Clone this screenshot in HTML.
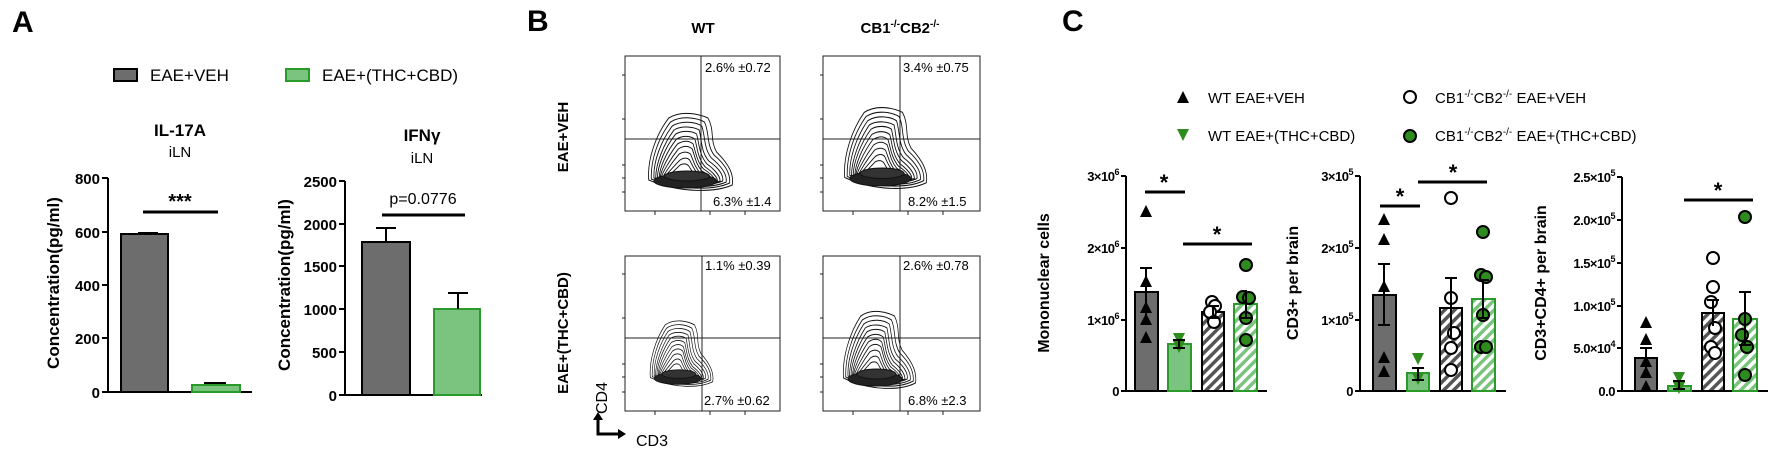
<!DOCTYPE html>
<html><head><meta charset="utf-8"><style>
html,body{margin:0;padding:0;background:#fff;}
svg{display:block;font-family:"Liberation Sans",sans-serif;}
.b{font-weight:bold}
</style></head><body>
<svg width="1772" height="453" viewBox="0 0 1772 453" xmlns="http://www.w3.org/2000/svg">
<defs>
<pattern id="hg" patternUnits="userSpaceOnUse" width="7" height="7" patternTransform="rotate(45)">
<rect width="7" height="7" fill="#fff"/><rect width="3.5" height="7" fill="#555"/></pattern>
<pattern id="hgr" patternUnits="userSpaceOnUse" width="7" height="7" patternTransform="rotate(45)">
<rect width="7" height="7" fill="#fff"/><rect width="3.5" height="7" fill="#7bc47f"/></pattern>
<g id="tu"><path d="M0,-7 L6,5 L-6,5Z" fill="#000"/></g>
<g id="td"><path d="M0,7 L6,-5 L-6,-5Z" fill="#2e8b1e"/></g>
<g id="co"><circle r="6" fill="#fff" stroke="#000" stroke-width="2"/></g>
<g id="cg"><circle r="6" fill="#2e8b1e" stroke="#000" stroke-width="2"/></g>
<g id="blob" fill="none" stroke="#111" stroke-width="1">
<path d="M2,70 C0,50 10,25 25,8 C40,0 60,4 70,8 C78,20 72,30 80,42 C95,55 100,65 98,75 C80,82 40,84 2,70Z"/>
<path d="M5,69 C4,50 13,28 27,12 C40,5 58,8 66,12 C72,22 68,34 77,45 C92,56 96,65 95,73 C78,80 40,81 5,69Z"/>
<path d="M8,68 C7,52 16,31 29,16 C40,10 56,12 63,16 C67,26 65,38 74,48 C88,58 92,66 91,72 C76,78 40,79 8,68Z"/>
<path d="M10,68 C10,54 19,34 31,20 C40,15 54,17 60,20 C63,30 62,42 71,51 C84,59 88,66 87,71 C74,76 40,77 10,68Z"/>
<path d="M12,68 C12,56 21,37 33,24 C41,20 52,21 57,24 C60,34 60,45 69,54 C80,61 84,67 84,71 C72,75 40,76 12,68Z"/>
<path d="M14,68 C14,58 23,41 34,29 C42,25 50,26 55,29 C58,38 58,48 67,57 C77,63 81,68 81,71 C70,74 40,75 14,68Z"/>
<path d="M15,68 C16,60 25,45 35,34 C43,30 49,31 53,34 C56,42 57,51 65,59 C74,64 78,68 78,71 C68,73 40,74 15,68Z"/>
<path d="M16,68 C18,62 27,49 36,39 C43,35 48,36 52,39 C55,46 56,54 63,61 C71,65 75,68 75,70 C66,72 40,73 16,68Z"/>
<path d="M17,69 C20,64 28,53 37,44 C43,41 47,42 50,44 C53,50 55,57 61,63 C68,66 72,69 72,70 C64,72 40,73 17,69Z"/>
<path d="M18,69 C22,65 30,57 38,50 C43,47 47,48 49,50 C52,55 54,60 59,64 C65,67 69,69 69,70 C62,72 40,72 18,69Z"/>
<path d="M19,70 C24,67 31,61 38,55 C43,53 46,54 48,56 C51,60 53,64 57,66 C62,68 66,69 66,70 C60,71 40,72 19,70Z"/>
<ellipse cx="44" cy="71" rx="36" ry="7" fill="#222"/>
<ellipse cx="46" cy="66" rx="26" ry="5" fill="#333"/>
</g>
</defs>

<!-- Panel A -->
<text x="12" y="32" font-size="30" class="b">A</text>
<rect x="114" y="69" width="23" height="12" fill="#6d6d6d" stroke="#000" stroke-width="2"/>
<text x="150" y="81" font-size="17">EAE+VEH</text>
<rect x="286" y="69" width="23" height="12" fill="#7bc47f" stroke="#2a9a2a" stroke-width="2"/>
<text x="322" y="81" font-size="17">EAE+(THC+CBD)</text>

<text x="180" y="136" font-size="17" class="b" text-anchor="middle">IL-17A</text>
<text x="180" y="157" font-size="15" text-anchor="middle">iLN</text>
<text transform="translate(59,283) rotate(-90)" font-size="17" class="b" text-anchor="middle">Concentration(pg/ml)</text>
<g stroke="#000" stroke-width="2" fill="none">
<path d="M108,178 V392 H252"/>
<path d="M102,178 H108 M102,232 H108 M102,285 H108 M102,338 H108 M102,392 H108"/>
</g>
<g font-size="15" class="b" text-anchor="end">
<text x="100" y="184">800</text><text x="100" y="238">600</text><text x="100" y="291">400</text><text x="100" y="344">200</text><text x="100" y="398">0</text>
</g>
<rect x="121" y="234" width="47" height="158" fill="#6d6d6d" stroke="#000" stroke-width="2"/>
<path d="M138,233 H158" stroke="#000" stroke-width="2"/>
<rect x="192" y="385" width="48" height="7" fill="#7bc47f" stroke="#2a9a2a" stroke-width="2"/>
<path d="M204,383 H226" stroke="#000" stroke-width="2"/>
<path d="M143,212 H218" stroke="#000" stroke-width="3"/>
<text x="180" y="208" font-size="20" class="b" text-anchor="middle">***</text>

<text x="422" y="141" font-size="17" class="b" text-anchor="middle">IFNγ</text>
<text x="422" y="163" font-size="15" text-anchor="middle">iLN</text>
<text transform="translate(290,285) rotate(-90)" font-size="17" class="b" text-anchor="middle">Concentration(pg/ml)</text>
<g stroke="#000" stroke-width="2" fill="none">
<path d="M345,181 V395 H482"/>
<path d="M339,181 H345 M339,224 H345 M339,266 H345 M339,309 H345 M339,352 H345 M339,395 H345"/>
</g>
<g font-size="15" class="b" text-anchor="end">
<text x="337" y="187">2500</text><text x="337" y="230">2000</text><text x="337" y="272">1500</text><text x="337" y="315">1000</text><text x="337" y="358">500</text><text x="337" y="401">0</text>
</g>
<rect x="362" y="242" width="48" height="153" fill="#6d6d6d" stroke="#000" stroke-width="2"/>
<path d="M386,242 V228 M376,228 H396" stroke="#000" stroke-width="2"/>
<rect x="434" y="309" width="46" height="86" fill="#7bc47f" stroke="#2a9a2a" stroke-width="2"/>
<path d="M458,309 V293 M448,293 H468" stroke="#000" stroke-width="2"/>
<path d="M382,215 H465" stroke="#000" stroke-width="3"/>
<text x="423" y="204" font-size="16" text-anchor="middle">p=0.0776</text>

<!-- Panel B -->
<text x="527" y="31" font-size="30" class="b">B</text>
<text x="703" y="33" font-size="15" class="b" text-anchor="middle">WT</text>
<text x="900" y="33" font-size="15" class="b" text-anchor="middle">CB1<tspan font-size="10" dy="-6">-/-</tspan><tspan dy="6">CB2</tspan><tspan font-size="10" dy="-6">-/-</tspan></text>
<text transform="translate(568,137) rotate(-90)" font-size="15" class="b" text-anchor="middle">EAE+VEH</text>
<text transform="translate(568,333) rotate(-90)" font-size="15" class="b" text-anchor="middle">EAE+(THC+CBD)</text>

<g fill="none" stroke="#222" stroke-width="1">
<rect x="625" y="56" width="155" height="155"/>
<path d="M701,56 V211 M625,139 H780"/>
<rect x="625" y="256" width="155" height="155"/>
<path d="M702,256 V411 M625,338 H780"/>
<rect x="823" y="56" width="157" height="155"/>
<path d="M900,56 V211 M823,139 H980"/>
<rect x="823" y="256" width="157" height="155"/>
<path d="M900,256 V411 M823,338 H980"/>
<path d="M622,75 H625 M622,119 H625 M622,165 H625 M622,178 H625 M622,192 H625 M820,75 H823 M820,119 H823 M820,165 H823 M820,178 H823 M820,192 H823 M622,274 H625 M622,318 H625 M622,364 H625 M622,377 H625 M622,392 H625 M820,274 H823 M820,318 H823 M820,364 H823 M820,377 H823 M820,392 H823"/>
<path d="M655,211 V215 M710,211 V215 M745,211 V215 M853,211 V215 M908,211 V215 M943,211 V215 M655,411 V415 M710,411 V415 M745,411 V415 M853,411 V415 M908,411 V415 M943,411 V415"/>
</g>
<use href="#blob" transform="translate(647,110) scale(0.87,1)"/>
<use href="#blob" transform="translate(843,104) scale(0.85,1.05)"/>
<use href="#blob" transform="translate(649,318) scale(0.65,0.85)"/>
<use href="#blob" transform="translate(842,308) scale(0.75,1)"/>
<g font-size="13">
<text x="705" y="72">2.6% ±0.72</text><text x="713" y="206">6.3% ±1.4</text>
<text x="705" y="270">1.1% ±0.39</text><text x="704" y="405">2.7% ±0.62</text>
<text x="903" y="72">3.4% ±0.75</text><text x="908" y="206">8.2% ±1.5</text>
<text x="903" y="270">2.6% ±0.78</text><text x="908" y="405">6.8% ±2.3</text>
</g>
<text transform="translate(607,398) rotate(-90)" font-size="16" text-anchor="middle">CD4</text>
<path d="M598,418 V434 H620" fill="none" stroke="#000" stroke-width="3"/>
<path d="M593,420 L598,412 L603,420Z M618,429 L626,434 L618,439Z" fill="#000"/>
<text x="636" y="446" font-size="16">CD3</text>

<!-- Panel C -->
<text x="1062" y="31" font-size="30" class="b">C</text>
<use href="#tu" x="1183" y="98"/>
<text x="1208" y="103" font-size="15">WT EAE+VEH</text>
<use href="#td" x="1183" y="134"/>
<text x="1208" y="141" font-size="15">WT EAE+(THC+CBD)</text>
<use href="#co" x="1410" y="97"/>
<text x="1435" y="103" font-size="15">CB1<tspan font-size="10" dy="-6">-/-</tspan><tspan dy="6">CB2</tspan><tspan font-size="10" dy="-6">-/-</tspan><tspan dy="6"> EAE+VEH</tspan></text>
<use href="#cg" x="1410" y="136"/>
<text x="1435" y="141" font-size="15">CB1<tspan font-size="10" dy="-6">-/-</tspan><tspan dy="6">CB2</tspan><tspan font-size="10" dy="-6">-/-</tspan><tspan dy="6"> EAE+(THC+CBD)</tspan></text>

<!-- C1 -->
<text transform="translate(1049,283) rotate(-90)" font-size="16" class="b" text-anchor="middle">Mononuclear cells</text>
<g stroke="#000" stroke-width="2" fill="none">
<path d="M1126,176 V391 H1267"/>
<path d="M1121,176 H1126 M1121,248 H1126 M1121,320 H1126 M1121,391 H1126"/>
</g>
<g font-size="13" class="b" text-anchor="end" letter-spacing="-0.5">
<text x="1119" y="181">3×10<tspan font-size="9" dy="-6">6</tspan></text>
<text x="1119" y="253">2×10<tspan font-size="9" dy="-6">6</tspan></text>
<text x="1119" y="325">1×10<tspan font-size="9" dy="-6">6</tspan></text>
<text x="1119" y="396">0</text>
</g>
<rect x="1135" y="292" width="23" height="99" fill="#6d6d6d" stroke="#000" stroke-width="2"/>
<rect x="1168" y="344" width="23" height="47" fill="#7bc47f" stroke="#2a9a2a" stroke-width="2"/>
<rect x="1202" y="312" width="22" height="79" fill="url(#hg)" stroke="#000" stroke-width="2"/>
<rect x="1234" y="304" width="23" height="87" fill="url(#hgr)" stroke="#2a9a2a" stroke-width="2"/>
<use href="#tu" x="1146" y="212"/><use href="#tu" x="1146" y="282"/><use href="#tu" x="1146" y="308"/><use href="#tu" x="1146" y="320"/><use href="#tu" x="1146" y="338"/>
<use href="#td" x="1179" y="338"/><use href="#td" x="1179" y="346"/>
<use href="#co" x="1212" y="302"/><use href="#co" x="1215" y="306"/><use href="#co" x="1210" y="312"/><use href="#co" x="1214" y="322"/>
<use href="#cg" x="1246" y="265"/><use href="#cg" x="1243" y="297"/><use href="#cg" x="1249" y="298"/><use href="#cg" x="1246" y="318"/><use href="#cg" x="1246" y="340"/>
<g stroke="#000" stroke-width="2">
<path d="M1146,268 V316 M1140,268 H1152"/>
<path d="M1179,340 V348 M1173,340 H1185 M1173,348 H1185"/>
<path d="M1213,306 V318 M1207,306 H1219 M1207,318 H1219"/>
<path d="M1246,290 V318 M1240,318 H1252"/>
</g>
<path d="M1145,192 H1185 M1183,244 H1252" stroke="#000" stroke-width="3"/>
<text x="1164" y="190" font-size="22" class="b" text-anchor="middle">*</text>
<text x="1217" y="242" font-size="22" class="b" text-anchor="middle">*</text>

<!-- C2 -->
<text transform="translate(1298,283) rotate(-90)" font-size="16" class="b" text-anchor="middle">CD3+ per brain</text>
<g stroke="#000" stroke-width="2" fill="none">
<path d="M1360,176 V391 H1506"/>
<path d="M1355,176 H1360 M1355,248 H1360 M1355,320 H1360 M1355,391 H1360"/>
</g>
<g font-size="13" class="b" text-anchor="end" letter-spacing="-0.5">
<text x="1353" y="181">3×10<tspan font-size="9" dy="-6">5</tspan></text>
<text x="1353" y="253">2×10<tspan font-size="9" dy="-6">5</tspan></text>
<text x="1353" y="325">1×10<tspan font-size="9" dy="-6">5</tspan></text>
<text x="1353" y="396">0</text>
</g>
<rect x="1373" y="295" width="23" height="96" fill="#6d6d6d" stroke="#000" stroke-width="2"/>
<rect x="1407" y="373" width="22" height="18" fill="#7bc47f" stroke="#2a9a2a" stroke-width="2"/>
<rect x="1440" y="308" width="22" height="83" fill="url(#hg)" stroke="#000" stroke-width="2"/>
<rect x="1472" y="299" width="23" height="92" fill="url(#hgr)" stroke="#2a9a2a" stroke-width="2"/>
<use href="#tu" x="1384" y="220"/><use href="#tu" x="1384" y="240"/><use href="#tu" x="1384" y="287"/><use href="#tu" x="1384" y="358"/><use href="#tu" x="1384" y="372"/>
<use href="#td" x="1418" y="358"/><use href="#td" x="1418" y="378"/>
<use href="#co" x="1451" y="198"/><use href="#co" x="1451" y="298"/><use href="#co" x="1454" y="333"/><use href="#co" x="1451" y="348"/><use href="#co" x="1451" y="370"/>
<use href="#cg" x="1483" y="232"/><use href="#cg" x="1481" y="275"/><use href="#cg" x="1486" y="277"/><use href="#cg" x="1483" y="315"/><use href="#cg" x="1481" y="347"/><use href="#cg" x="1486" y="347"/>
<g stroke="#000" stroke-width="2">
<path d="M1384,264 V325 M1378,264 H1390 M1378,325 H1390"/>
<path d="M1418,368 V380 M1412,368 H1424 M1412,380 H1424"/>
<path d="M1451,278 V338 M1445,278 H1457"/>
<path d="M1483,280 V318 M1477,280 H1489 M1477,318 H1489"/>
</g>
<path d="M1380,206 H1420 M1418,182 H1487" stroke="#000" stroke-width="3"/>
<text x="1400" y="204" font-size="22" class="b" text-anchor="middle">*</text>
<text x="1453" y="180" font-size="22" class="b" text-anchor="middle">*</text>

<!-- C3 -->
<text transform="translate(1546,283) rotate(-90)" font-size="16" class="b" text-anchor="middle">CD3+CD4+ per brain</text>
<g stroke="#000" stroke-width="2" fill="none">
<path d="M1622,177 V391 H1768"/>
<path d="M1617,177 H1622 M1617,220 H1622 M1617,263 H1622 M1617,306 H1622 M1617,348 H1622 M1617,391 H1622"/>
</g>
<g font-size="13" class="b" text-anchor="end" letter-spacing="-0.5">
<text x="1615" y="182">2.5×10<tspan font-size="9" dy="-6">5</tspan></text>
<text x="1615" y="225">2.0×10<tspan font-size="9" dy="-6">5</tspan></text>
<text x="1615" y="268">1.5×10<tspan font-size="9" dy="-6">5</tspan></text>
<text x="1615" y="311">1.0×10<tspan font-size="9" dy="-6">5</tspan></text>
<text x="1615" y="353">5.0×10<tspan font-size="9" dy="-6">4</tspan></text>
<text x="1615" y="396">0.0</text>
</g>
<rect x="1635" y="358" width="22" height="33" fill="#6d6d6d" stroke="#000" stroke-width="2"/>
<rect x="1668" y="386" width="23" height="5" fill="#7bc47f" stroke="#2a9a2a" stroke-width="2"/>
<rect x="1702" y="313" width="22" height="78" fill="url(#hg)" stroke="#000" stroke-width="2"/>
<rect x="1733" y="319" width="24" height="72" fill="url(#hgr)" stroke="#2a9a2a" stroke-width="2"/>
<use href="#tu" x="1646" y="323"/><use href="#tu" x="1646" y="340"/><use href="#tu" x="1646" y="362"/><use href="#tu" x="1646" y="373"/><use href="#tu" x="1646" y="387"/>
<use href="#td" x="1679" y="377"/><use href="#td" x="1679" y="387"/>
<use href="#co" x="1713" y="258"/><use href="#co" x="1713" y="287"/><use href="#co" x="1711" y="302"/><use href="#co" x="1715" y="328"/><use href="#co" x="1711" y="347"/><use href="#co" x="1715" y="353"/>
<use href="#cg" x="1745" y="217"/><use href="#cg" x="1745" y="319"/><use href="#cg" x="1742" y="335"/><use href="#cg" x="1747" y="347"/><use href="#cg" x="1745" y="375"/>
<g stroke="#000" stroke-width="2">
<path d="M1646,348 V368 M1640,348 H1652"/>
<path d="M1679,381 V389 M1673,381 H1685 M1673,389 H1685"/>
<path d="M1713,300 V326 M1707,300 H1719"/>
<path d="M1745,292 V345 M1739,292 H1751 M1739,345 H1751"/>
</g>
<path d="M1684,200 H1753" stroke="#000" stroke-width="3"/>
<text x="1718" y="198" font-size="22" class="b" text-anchor="middle">*</text>
</svg>
</body></html>
